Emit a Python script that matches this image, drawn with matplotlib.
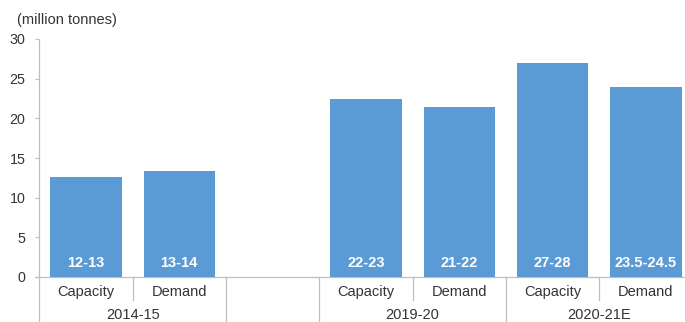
import matplotlib
matplotlib.use("Agg")
import matplotlib.pyplot as plt
import matplotlib.transforms as mtransforms

plt.rcParams['font.family'] = ['Liberation Sans', 'DejaVu Sans']

# ---- data ----
years = ["2014-15", "2019-20", "2020-21E"]
series = ["Capacity", "Demand"]
values = [12.6, 13.4, 22.5, 21.4, 27.0, 24.0]
bar_labels = ["12-13", "13-14", "22-23", "21-22", "27-28", "23.5-24.5"]
y_ticks = [0, 5, 10, 15, 20, 25, 30]
unit_label = "(million tonnes)"

# ---- layout: slots per group, with an empty slot after the first group ----
group_slots = [[0, 1], [3, 4], [5, 6]]
positions = [s for g in group_slots for s in g]
cats = [series[i % 2] for i in range(len(values))]

W, H = 685, 322
fig = plt.figure(figsize=(W / 100, H / 100), dpi=100)
left_px, right_px, top_px, bot_px = 39.3, 692.6, 39, 277
ax = fig.add_axes([left_px / W, 1 - bot_px / H, (right_px - left_px) / W, (bot_px - top_px) / H])

bar_color = "#5B9BD5"
grey = "#BFBFBF"
txt = "#333333"

ax.bar(positions, values, width=0.766, color=bar_color, zorder=2)
ax.set_xlim(-0.5, 6.5)
ax.set_ylim(0, 30)
ax.set_yticks(y_ticks)
ax.set_yticklabels([str(t) for t in y_ticks], fontsize=10.3, color=txt)
ax.tick_params(axis='y', length=3, width=0.8, color=grey, pad=7)
ax.set_xticks([])
for s in ax.spines.values():
    s.set_visible(False)

axh = bot_px - top_px
blend = mtransforms.blended_transform_factory(ax.transData, ax.transAxes)

# bar value labels
for x, lab in zip(positions, bar_labels):
    ax.text(x, 1.75, lab, ha='center', va='center', color='white',
            fontsize=10.5, fontweight='bold', zorder=3)

# zero line
ax.plot([-0.5 - 4 / 93.3, 6.5], [0, 0], color=grey, lw=0.9, clip_on=False, zorder=1)
# left axis (extends below into the category area)
ax.plot([0, 0], [-45 / axh, 1], transform=ax.transAxes, color=grey, lw=0.9, clip_on=False)

# category dividers
short = -23 / axh
long_ = -45 / axh
for g in group_slots:
    ax.plot([g[0] + 0.5] * 2, [0, short], transform=blend, color=grey, lw=0.9, clip_on=False)
long_divs = [1.5, 2.5, 4.5]
for d in long_divs:
    ax.plot([d, d], [0, long_], transform=blend, color=grey, lw=0.9, clip_on=False)

# category labels
for x, c in zip(positions, cats):
    ax.text(x, -15 / axh, c, transform=blend, ha='center', va='center', fontsize=10.5, color=txt)
for g, y in zip(group_slots, years):
    ax.text((g[0] + g[1]) / 2, -38 / axh, y, transform=blend, ha='center', va='center',
            fontsize=10.5, color=txt)

fig.text(16.7 / W, 1 - 20 / H, unit_label, ha='left', va='center', fontsize=10.5, color=txt)

fig.savefig("out.png", dpi=100)
